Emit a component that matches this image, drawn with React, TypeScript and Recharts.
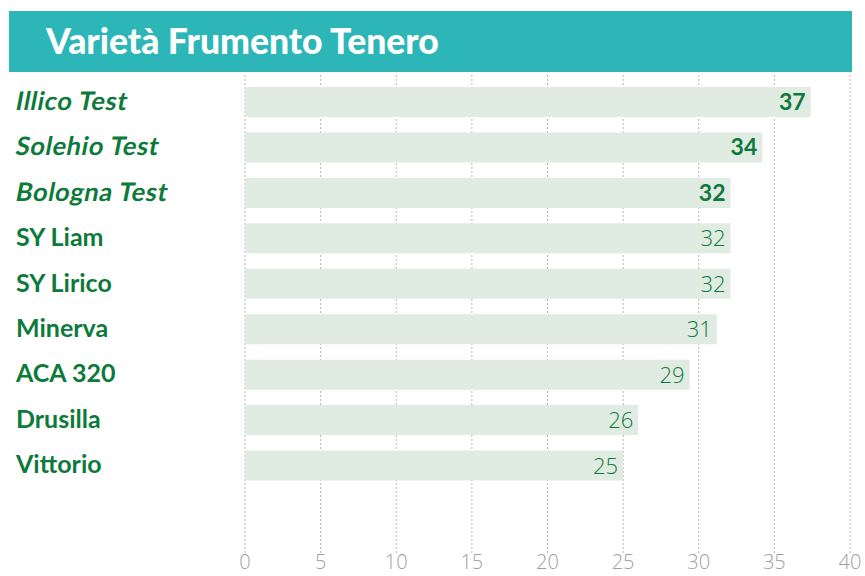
import React from "react";
import { BarChart, Bar, XAxis, YAxis, CartesianGrid, LabelList } from "recharts";

const title = "Varietà Frumento Tenero";
const varieties = ["Illico Test", "Solehio Test", "Bologna Test", "SY Liam", "SY Lirico", "Minerva", "ACA 320", "Drusilla", "Vittorio"];
const values = [37.4, 34.2, 32.1, 32.1, 32.1, 31.2, 29.4, 26.0, 25.0];
const highlighted = ["Illico Test", "Solehio Test", "Bologna Test"];
const xTicks = [0, 5, 10, 15, 20, 25, 30, 35, 40];

const data = varieties.map((name, i) => ({ name, value: values[i] }));

const GREEN = "#0b7a3a";

const CategoryTick = (props: any) => {
  const { y, payload } = props;
  const hl = highlighted.includes(payload.value);
  return (
    <text
      x={0}
      y={0}
      dy={8}
      transform={hl ? `translate(16,${y}) skewX(-11)` : `translate(16,${y})`}
      textAnchor="start"
      fill={GREEN}
      fontFamily="Lato"
      fontWeight={700}
      fontSize={hl ? 25.5 : 25}
      letterSpacing={hl ? 0.6 : 0}
    >
      {payload.value}
    </text>
  );
};

const ValueLabel = (props: any) => {
  const { x, y, width, height, value, index } = props;
  const hl = highlighted.includes(varieties[index]);
  return (
    <text
      x={x + width - 5}
      y={y + height / 2}
      dy={8}
      textAnchor="end"
      fill={GREEN}
      fontFamily={hl ? "Lato" : "'Open Sans'"}
      fontWeight={hl ? 700 : 300}
      fontSize={hl ? 23 : 22}
    >
      {Math.round(value)}
    </text>
  );
};

export default function App() {
  return (
    <div style={{ position: "absolute", left: 0, top: 0, width: 865, height: 576, background: "#fff" }}>
      <div
        style={{
          position: "absolute",
          left: 9,
          top: 11,
          width: 843,
          height: 61,
          background: "#2cb6b7",
        }}
      />
      <div
        style={{
          position: "absolute",
          left: 46,
          top: 10,
          height: 61,
          lineHeight: "61px",
          color: "#fff",
          fontFamily: "Lato",
          fontWeight: 900,
          fontSize: 35.5,
          whiteSpace: "nowrap",
        }}
      >
        {title}
      </div>
      <div style={{ position: "absolute", left: 0, top: 0 }}>
        <BarChart
          width={865}
          height={576}
          data={data}
          layout="vertical"
          margin={{ top: 75, right: 15, bottom: 0, left: 0 }}
        >
          <CartesianGrid horizontal={false} vertical={true} stroke="#b5b5b5" strokeDasharray="2 2" />
          <XAxis
            type="number"
            domain={[0, 40]}
            ticks={xTicks}
            axisLine={false}
            tickLine={false}
            tickSize={0}
            tickMargin={2}
            height={23}
            interval={0}
            tick={{ fill: "#a0a0a0", fontSize: 20, fontFamily: "'Open Sans'", fontWeight: 300 }}
          />
          <YAxis
            type="category"
            dataKey="name"
            width={245}
            axisLine={false}
            tickLine={false}
            padding={{ top: 4, bottom: 65 }}
            tick={<CategoryTick />}
            interval={0}
          />
          <Bar dataKey="value" fill="#e0ebe1" barSize={30} isAnimationActive={false}>
            <LabelList dataKey="value" content={<ValueLabel />} />
          </Bar>
        </BarChart>
      </div>
    </div>
  );
}
